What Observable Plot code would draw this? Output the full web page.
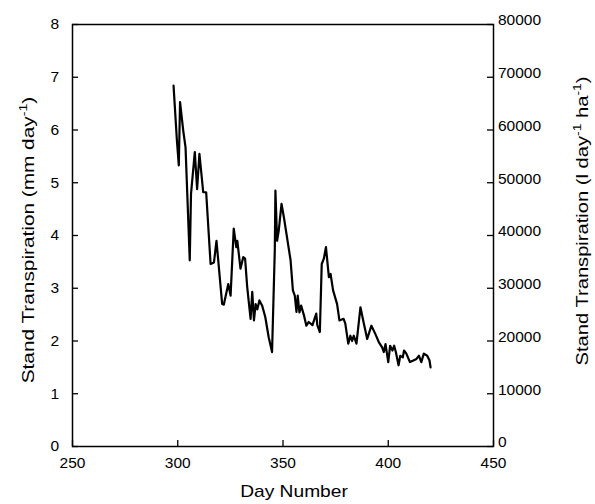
<!DOCTYPE html>
<html><head><meta charset="utf-8">
<script src="https://cdn.jsdelivr.net/npm/d3@7"></script>
<script src="https://cdn.jsdelivr.net/npm/@observablehq/plot@0.6"></script>
<style>body{margin:0;background:#fff} svg{display:block}</style>
</head><body><div id="chart"></div>
<script>
const days = [298.0,299.6,300.5,301.1,302.6,303.7,305.7,306.3,308.1,309.2,310.3,312.1,313.5,315.6,317.2,318.4,321.1,321.9,324.0,325.1,326.6,327.8,328.3,329.8,331.1,332.0,333.0,334.6,335.4,336.2,337.0,337.8,338.8,340.1,341.6,343.2,344.8,346.1,346.4,347.2,348.0,349.3,350.4,352.0,353.6,354.7,355.6,356.4,357.0,357.8,358.6,360.0,361.1,362.2,364.0,365.8,366.3,367.5,368.4,369.4,370.4,371.8,372.6,373.8,375.7,376.8,378.8,379.6,381.0,382.0,382.8,383.6,384.9,386.8,388.4,390.0,392.0,393.9,395.5,397.1,397.9,398.7,400.0,400.9,402.0,402.8,403.6,404.9,405.7,406.9,407.5,408.6,410.3,411.9,413.4,414.6,415.7,416.9,418.5,419.6,420.1];
const transpiration = [6.84,5.80,5.33,6.53,5.99,5.67,3.53,4.79,5.58,4.88,5.55,4.82,4.82,3.46,3.49,3.90,2.70,2.69,3.08,2.86,4.13,3.78,3.90,3.37,3.59,3.56,3.02,2.42,2.93,2.39,2.70,2.60,2.77,2.67,2.45,2.07,1.79,3.72,4.85,3.90,4.10,4.60,4.35,3.94,3.53,2.96,2.86,2.55,2.86,2.54,2.67,2.48,2.29,2.36,2.30,2.52,2.30,2.17,3.46,3.56,3.78,3.21,3.27,2.96,2.70,2.39,2.42,2.33,1.95,2.10,2.00,2.10,1.95,2.64,2.33,2.04,2.29,2.13,1.98,1.88,1.79,1.94,1.60,1.91,1.82,1.91,1.79,1.54,1.72,1.69,1.82,1.76,1.60,1.63,1.66,1.72,1.60,1.76,1.72,1.63,1.50];
const xTicks = [250,300,350,400,450];
const yTicks = [0,1,2,3,4,5,6,7,8];
const yRightTickLabels = ["0","10000","20000","30000","40000","50000","60000","70000","80000"];
const xTitle = "Day Number";
const yLeftTitle = ["Stand Transpiration (mm day", "-1", ")"];
const yRightTitle = ["Stand Transpiration (l day", "-1", " ha", "-1", ")"];

const data = days.map((d, i) => ({day: d, t: transpiration[i]}));
const FONT = "'Liberation Sans', Arial, Helvetica, sans-serif";
const W = 595, H = 504, ML = 72, MR = 102, MT = 24, MB = 58, TICK = 6;
const plotW = W - ML - MR, plotH = H - MT - MB;

const chart = Plot.plot({
  width: W, height: H,
  marginLeft: ML, marginRight: MR, marginTop: MT, marginBottom: MB,
  style: {fontFamily: FONT, fontSize: "15.5px", color: "#000", background: "#fff", overflow: "visible"},
  x: {domain: [250, 450]},
  y: {domain: [0, 8]},
  marks: [
    // inward tick marks
    Plot.ruleY(yTicks, {y: d => d, insetRight: plotW - TICK, stroke: "#000", strokeWidth: 1.3}),
    Plot.ruleY(yTicks, {y: d => d, insetLeft: plotW - TICK, stroke: "#000", strokeWidth: 1.3}),
    Plot.ruleX(xTicks, {x: d => d, insetTop: plotH - TICK, stroke: "#000", strokeWidth: 1.3}),
    Plot.frame({stroke: "#000", strokeWidth: 1.5}),
    Plot.axisX({ticks: xTicks, tickSize: 0, tickPadding: 10, label: null, tickFormat: d => String(d)}),
    Plot.axisY({anchor: "left", ticks: yTicks, tickSize: 0, tickPadding: 13.5, label: null, tickFormat: d => String(d)}),
    Plot.axisY({anchor: "right", ticks: yTicks, tickSize: 0, tickPadding: 4.5, label: null, dy: -4,
      tickFormat: d => yRightTickLabels[yTicks.indexOf(d)]}),
    Plot.line(data, {x: "day", y: "t", stroke: "#000", strokeWidth: 2.2, curve: "linear", strokeLinejoin: "round"})
  ]
});
document.getElementById("chart").appendChild(chart);

const svg = d3.select(chart);
function addTitle(parts, transform, anchor) {
  const t = svg.append("text")
    .attr("transform", transform)
    .attr("text-anchor", anchor)
    .attr("font-family", FONT)
    .attr("font-size", 16)
    .attr("fill", "#000");
  let sup = false;
  parts.forEach((p) => {
    const isSup = (p === "-1");
    const ts = t.append("tspan").text(p);
    if (isSup) { ts.attr("font-size", 11).attr("dy", -7); sup = true; }
    else if (sup) { ts.attr("dy", 7); sup = false; }
  });
}
addTitle([xTitle], "translate(294,497) scale(1.2,1)", "middle");
addTitle(yLeftTitle, "translate(33.5,240) rotate(-90) scale(1.3,1)", "middle");
addTitle(yRightTitle, "translate(588,221) rotate(-90) scale(1.26,1)", "middle");
</script></body></html>
